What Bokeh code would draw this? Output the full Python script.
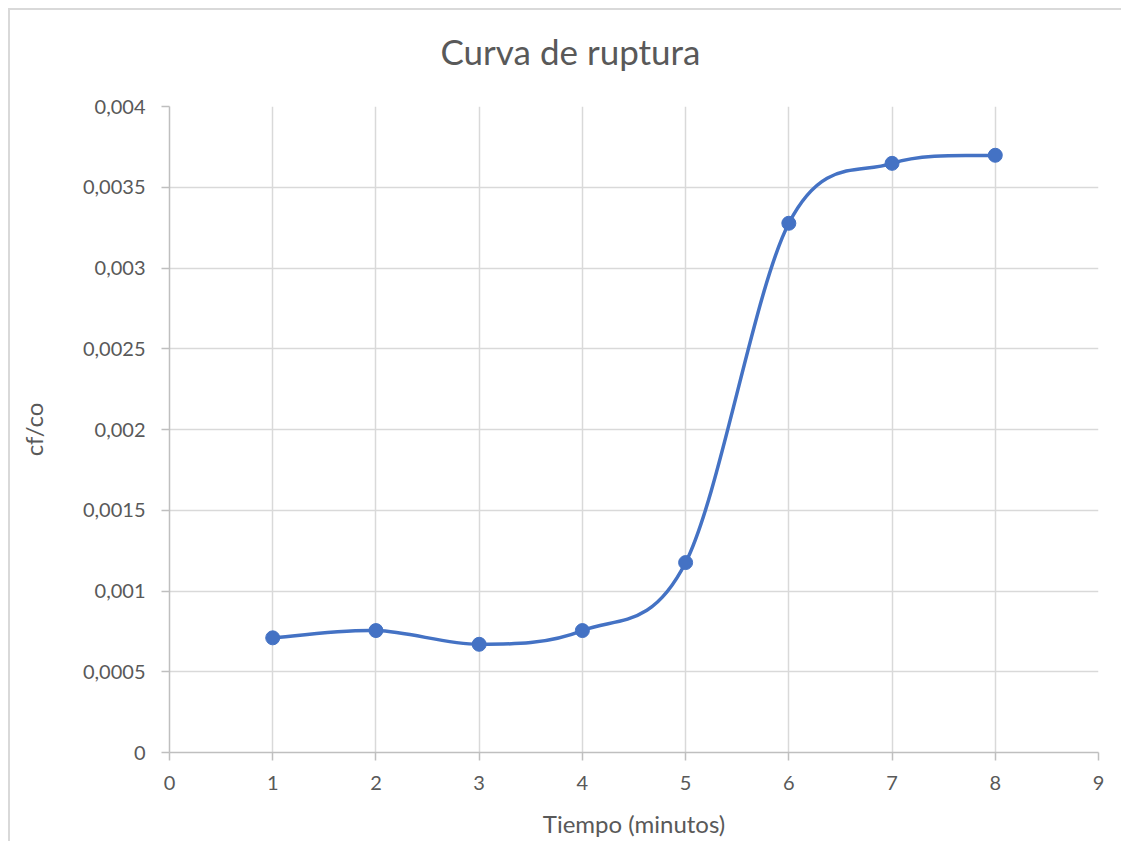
from bokeh.plotting import figure
from bokeh.models import FixedTicker
from bokeh.embed import file_html
from bokeh.resources import INLINE

# ---- data ----
tiempo = [1, 2, 3, 4, 5, 6, 7, 8]
cf_co = [0.00071, 0.000755, 0.00067, 0.000755, 0.001176, 0.003277, 0.003648, 0.003698]
x_ticks = [0, 1, 2, 3, 4, 5, 6, 7, 8, 9]
y_ticks = [0, 0.0005, 0.001, 0.0015, 0.002, 0.0025, 0.003, 0.0035, 0.004]
y_labels = ["0", "0,0005", "0,001", "0,0015", "0,002", "0,0025", "0,003", "0,0035", "0,004"]
title_text = "Curva de ruptura"

TEXT = "#595959"
BLUE = "#4472C4"
FONT = "Lato"

# Smoothed line (Catmull-Rom -> cubic Bezier, as Excel's smoothed scatter)
n = len(tiempo)
x0s, y0s, x1s, y1s, cx0s, cy0s, cx1s, cy1s = [], [], [], [], [], [], [], []
for i in range(n - 1):
    pm = (tiempo[max(i - 1, 0)], cf_co[max(i - 1, 0)])
    p0 = (tiempo[i], cf_co[i])
    p1 = (tiempo[i + 1], cf_co[i + 1])
    pp = (tiempo[min(i + 2, n - 1)], cf_co[min(i + 2, n - 1)])
    x0s.append(p0[0]); y0s.append(p0[1])
    x1s.append(p1[0]); y1s.append(p1[1])
    cx0s.append(p0[0] + (p1[0] - pm[0]) / 6); cy0s.append(p0[1] + (p1[1] - pm[1]) / 6)
    cx1s.append(p1[0] - (pp[0] - p0[0]) / 6); cy1s.append(p1[1] - (pp[1] - p0[1]) / 6)

p = figure(width=1113, height=848, x_range=(0, 9), y_range=(0, 0.004),
           output_backend="svg", toolbar_location=None,
           min_border_left=161, min_border_right=23, min_border_top=113, min_border_bottom=89,
           title=title_text)
p.styles = {"box-shadow": "inset 0 15px 0 0 #ffffff, inset 0 17px 0 0 #d9d9d9, inset 2px 0 0 0 #d9d9d9",
            "margin-left": "8px", "margin-top": "-7px"}
p.border_fill_alpha = 0
p.outline_line_color = None

p.title.align = "left"
p.title.offset = 271
p.title.text_font = FONT
p.title.text_font_size = "35px"
p.title.text_font_style = "normal"
p.title.text_color = TEXT
p.title.standoff = 69

p.bezier(x0=x0s, y0=y0s, x1=x1s, y1=y1s, cx0=cx0s, cy0=cy0s, cx1=cx1s, cy1=cy1s,
         line_color=BLUE, line_width=3.5)
p.scatter(tiempo, cf_co, size=14, color=BLUE)

for ax in (p.xaxis[0], p.yaxis[0]):
    ax.axis_line_color = "#bfbfbf"
    ax.axis_line_width = 1.5
    ax.major_tick_line_color = "#bfbfbf"
    ax.major_tick_line_width = 1.5
    ax.major_tick_out = 8
    ax.major_tick_in = 0
    ax.minor_tick_line_color = None
    ax.major_label_text_font = FONT
    ax.major_label_text_font_size = "20px"
    ax.major_label_text_color = TEXT
    ax.axis_label_text_font = FONT
    ax.axis_label_text_font_size = "24px"
    ax.axis_label_text_font_style = "normal"
    ax.axis_label_text_color = TEXT

p.xaxis.ticker = FixedTicker(ticks=x_ticks)
p.yaxis.ticker = FixedTicker(ticks=y_ticks)
p.yaxis.major_label_overrides = {t: l for t, l in zip(y_ticks, y_labels)}
p.xaxis.axis_label = "Tiempo (minutos)"
p.yaxis.axis_label = "cf/co"
p.xaxis.major_label_standoff = 15
p.yaxis.major_label_standoff = 16
p.xaxis.axis_label_standoff = 16
p.yaxis.axis_label_standoff = 32

p.grid.grid_line_color = "#d9d9d9"
p.grid.grid_line_width = 1.5

open("out.html", "w").write(file_html(p, INLINE))
